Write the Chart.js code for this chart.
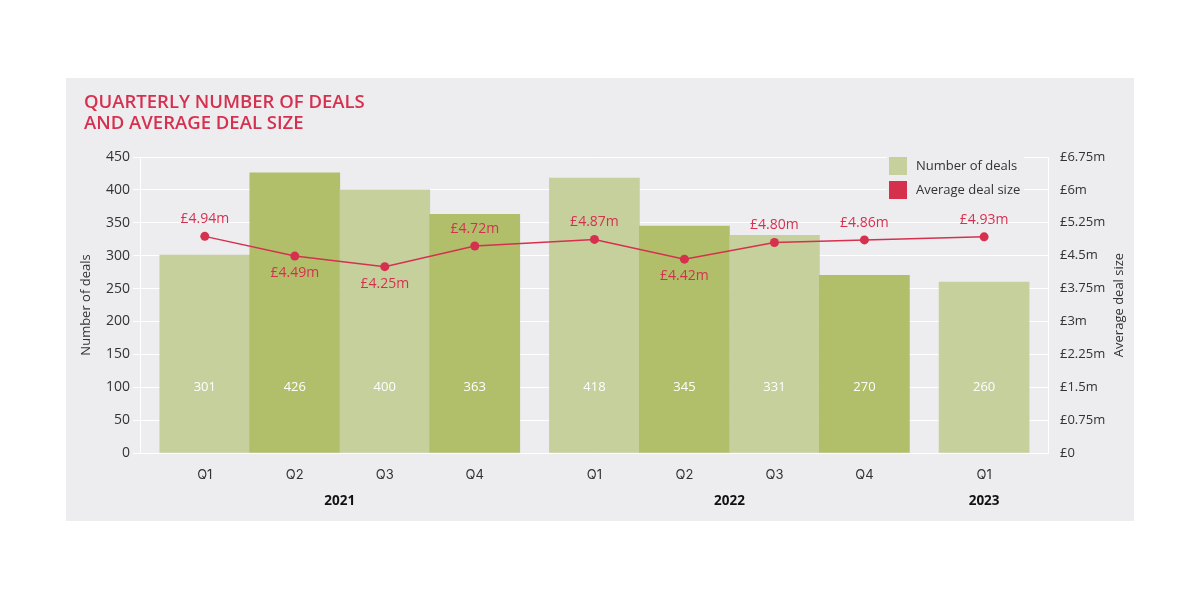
<!DOCTYPE html>
<html>
<head>
  <meta charset="UTF-8">
  <title>Quarterly number of deals and average deal size</title>
  <style>
    body { margin: 0; background: #ffffff; }
    #panel { position: absolute; left: 66px; top: 78px; width: 1068px; height: 443px; background: #ededf0; }
    #chart { position: absolute; left: 0; top: 0; }
    #title { position: absolute; left: 18px; top: 12px; font-family: 'Open Sans', sans-serif; font-weight: 600;
             font-size: 18.5px; line-height: 21px; color: #d6304f; }
  </style>
</head>
<body>
  <div id="panel">
    <canvas id="chart" width="1068" height="443"></canvas>
    <div id="title">QUARTERLY NUMBER OF DEALS<br>AND AVERAGE DEAL SIZE</div>
  </div>

  <script src="https://cdn.jsdelivr.net/npm/chart.js/dist/chart.umd.min.js"></script>
  <script>
    // data
    const quarters = ['Q1', 'Q2', 'Q3', 'Q4', 'Q1', 'Q2', 'Q3', 'Q4', 'Q1'];
    const years = ['2021', '2021', '2021', '2021', '2022', '2022', '2022', '2022', '2023'];
    const deals = [301, 426, 400, 363, 418, 345, 331, 270, 260];
    const avgDealSize = [4.94, 4.49, 4.25, 4.72, 4.87, 4.42, 4.80, 4.86, 4.93]; // £m
    const rightTickLabels = ['£0', '£0.75m', '£1.5m', '£2.25m', '£3m', '£3.75m', '£4.5m', '£5.25m', '£6m', '£6.75m'];

    const RED = '#d6304f';
    const LIGHT = 'rgba(193, 204, 146, 0.9)';
    const DARK = 'rgba(170, 184, 91, 0.9)';
    const TEXT = '#333333';
    const FONT = "'Open Sans', sans-serif";

    // small gap between years on the x axis
    const GAP = 0.33;
    const yearList = [...new Set(years)];
    const xPos = quarters.map((q, i) => i + GAP * yearList.indexOf(years[i]));
    const yearCentres = yearList.map(y => {
      const p = xPos.filter((v, i) => years[i] === y);
      return (p[0] + p[p.length - 1]) / 2;
    });

    Chart.defaults.font.family = FONT;
    Chart.defaults.color = TEXT;

    // value labels, legend and right axis title
    const extras = {
      id: 'extras',
      afterDraw(chart) {
        const ctx = chart.ctx;
        const area = chart.chartArea;
        ctx.save();
        ctx.textAlign = 'center';
        ctx.textBaseline = 'middle';

        // bar values
        ctx.font = '13px ' + FONT;
        ctx.fillStyle = '#ffffff';
        const yLab = chart.scales.y.getPixelForValue(100);
        chart.getDatasetMeta(0).data.forEach((bar, i) => ctx.fillText(deals[i], bar.x, yLab));

        // line values
        ctx.font = '14px ' + FONT;
        ctx.fillStyle = RED;
        chart.getDatasetMeta(1).data.forEach((pt, i) => {
          const below = i > 0 && avgDealSize[i] < avgDealSize[i - 1];
          ctx.fillText('£' + avgDealSize[i].toFixed(2) + 'm', pt.x, pt.y + (below ? 17 : -17));
        });

        // legend
        const lx = area.right - 159, ly = area.top;
        ctx.fillStyle = '#ededf0';
        ctx.fillRect(lx - 2, ly - 2, 137, 46);
        ctx.font = '13px ' + FONT;
        ctx.textAlign = 'left';
        const items = [[chart.data.datasets[0].label, LIGHT], [chart.data.datasets[1].label, RED]];
        items.forEach(([txt, col], i) => {
          ctx.fillStyle = col;
          ctx.fillRect(lx, ly + i * 24, 18, 18);
          ctx.fillStyle = TEXT;
          ctx.fillText(txt, lx + 27, ly + i * 24 + 9);
        });

        // right axis title, reading bottom to top
        ctx.translate(area.right + 71, (area.top + area.bottom) / 2);
        ctx.rotate(-Math.PI / 2);
        ctx.textAlign = 'center';
        ctx.fillText('Average deal size', 0, 0);
        ctx.restore();
      }
    };

    new Chart(document.getElementById('chart'), {
      type: 'bar',
      data: {
        datasets: [
          {
            type: 'bar',
            label: 'Number of deals',
            data: deals.map((v, i) => ({ x: xPos[i], y: v })),
            backgroundColor: deals.map((v, i) => i % 2 === 0 ? LIGHT : DARK),
            barPercentage: 1,
            categoryPercentage: 1,
            xAxisID: 'x',
            yAxisID: 'y',
            order: 1
          },
          {
            type: 'line',
            label: 'Average deal size',
            data: avgDealSize.map((v, i) => ({ x: xPos[i], y: v })),
            borderColor: RED,
            backgroundColor: RED,
            borderWidth: 1.5,
            pointRadius: 4.5,
            pointBackgroundColor: RED,
            pointBorderWidth: 0,
            xAxisID: 'x',
            yAxisID: 'y1',
            order: 0
          }
        ]
      },
      options: {
        responsive: false,
        animation: false,
        layout: { padding: { top: 79, left: 0, right: 0, bottom: 0 } },
        plugins: {
          legend: { display: false },
          tooltip: { enabled: false }
        },
        scales: {
          x: {
            type: 'linear',
            position: 'bottom',
            weight: 0,
            min: -0.72,
            max: 9.37,
            offset: false,
            grid: { display: false },
            border: { display: false },
            afterBuildTicks: s => { s.ticks = xPos.map(v => ({ value: v })); },
            afterFit: s => { s.height = 26; },
            ticks: {
              autoSkip: false,
              maxRotation: 0,
              padding: 6,
              font: { family: "Inter, sans-serif", size: 13 },
              color: TEXT,
              callback: (v, i) => quarters[i]
            }
          },
          x2: {
            type: 'linear',
            position: 'bottom',
            weight: 1,
            min: -0.72,
            max: 9.37,
            offset: false,
            grid: { display: false },
            border: { display: false },
            afterBuildTicks: s => { s.ticks = yearCentres.map(v => ({ value: v })); },
            afterFit: s => { s.height = 42; },
            ticks: {
              autoSkip: false,
              maxRotation: 0,
              padding: 6,
              font: { size: 13.5, weight: 'bold' },
              color: '#111111',
              callback: (v, i) => yearList[i]
            }
          },
          y: {
            position: 'left',
            min: 0,
            max: 450,
            afterFit: s => { s.width = 74; },
            ticks: { stepSize: 50, padding: 3, font: { size: 14 }, color: TEXT },
            grid: { color: '#ffffff', lineWidth: 1, tickLength: 7 },
            border: { display: true, color: '#ffffff' },
            title: { display: true, text: 'Number of deals', font: { size: 13 }, color: TEXT, padding: { top: 12, bottom: 0 } }
          },
          y1: {
            position: 'right',
            min: 0,
            max: 6.75,
            afterFit: s => { s.width = 86; },
            ticks: { stepSize: 0.75, padding: 4, font: { size: 13 }, color: TEXT, callback: (v, i) => rightTickLabels[i] },
            grid: { display: false },
            border: { display: true, color: '#ffffff' }
          }
        }
      },
      plugins: [extras]
    });
  </script>
</body>
</html>
